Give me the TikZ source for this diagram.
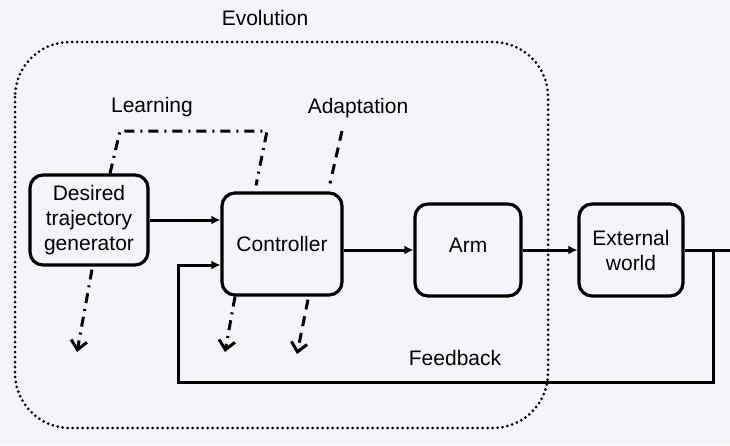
\documentclass[tikz,border=0pt]{standalone}
\usepackage{fontspec}
\setmainfont{Liberation Sans}
\usetikzlibrary{arrows.meta,positioning,calc}
\definecolor{bgcolor}{RGB}{245,245,249}

\begin{document}
\begin{tikzpicture}[x=1pt,y=-1pt,
  every node/.style={font=\fontsize{21}{25}\selectfont},
  block/.style={draw,line width=3.2pt,rounded corners=13pt,align=center,inner sep=0pt},
  flow/.style={line width=3pt,-{Latex[length=9pt,width=9pt]}},
  learn/.style={line width=3pt,dash pattern=on 10pt off 6pt on 2pt off 6pt},
  adapt/.style={line width=3pt,dash pattern=on 10pt off 7pt},
  open/.style={-{Straight Barb[length=9pt,width=16pt,line width=3pt]}},
  evo/.style={line width=3pt,dash pattern=on 0pt off 5pt,line cap=round,rounded corners=55pt}]
  \fill[bgcolor] (0,0) rectangle (730,445);
  \useasboundingbox (0,0) rectangle (730,445);

  \draw[evo] (15,42) rectangle (548,428);
  \node (evolution) at (265,18) {Evolution};

  \node[block,minimum width=118pt,minimum height=90pt] (dtg) at (89,220) {Desired\\trajectory\\generator};
  \node[block,minimum width=120pt,minimum height=102pt] (ctrl) at (282,244) {Controller};
  \node[block,minimum width=106pt,minimum height=92pt] (arm) at (468,250) {\raisebox{9pt}{Arm}};
  \node[block,minimum width=104pt,minimum height=92pt] (ext) at (631,250) {External\\world};

  \node (learning) at (152,107) {Learning};
  \node (adaptation) at (358,108) {Adaptation};
  \node (feedback) at (455,358) {Feedback};

  \coordinate (tap) at (713,250);
  \coordinate (out) at (730,250);
  \coordinate (fbl) at (178,382);
  \coordinate (l1) at (120,131);
  \coordinate (l2) at (267,131);
  \coordinate (a1) at (342,131);
  \coordinate (d1) at (77,352);
  \coordinate (d2) at (225,352);
  \coordinate (d3) at (297,354);

  \draw[flow] (dtg.east) -- (dtg.east -| ctrl.west);
  \draw[flow] (ctrl.east |- arm) -- (arm.west);
  \draw[flow] (arm) -- (ext);
  \draw[line width=3pt] (ext) -- (out);
  \draw[flow] (tap) |- (fbl) |- ($(ctrl.west)+(0,21)$);

  \draw[learn] ($(dtg.north)+(21,0)$) -- (l1) -- (l2) -- ($(ctrl.north)+(-26,-6)$);
  \draw[adapt] (a1) -- ($(ctrl.north)+(48,-8)$);
  \draw[learn,open] ($(dtg.south)+(3,3)$) -- (d1);
  \draw[learn,open] ($(ctrl.south)+(-47,0)$) -- (d2);
  \draw[adapt,open] ($(ctrl.south)+(26,3)$) -- (d3);
\end{tikzpicture}
\end{document}
